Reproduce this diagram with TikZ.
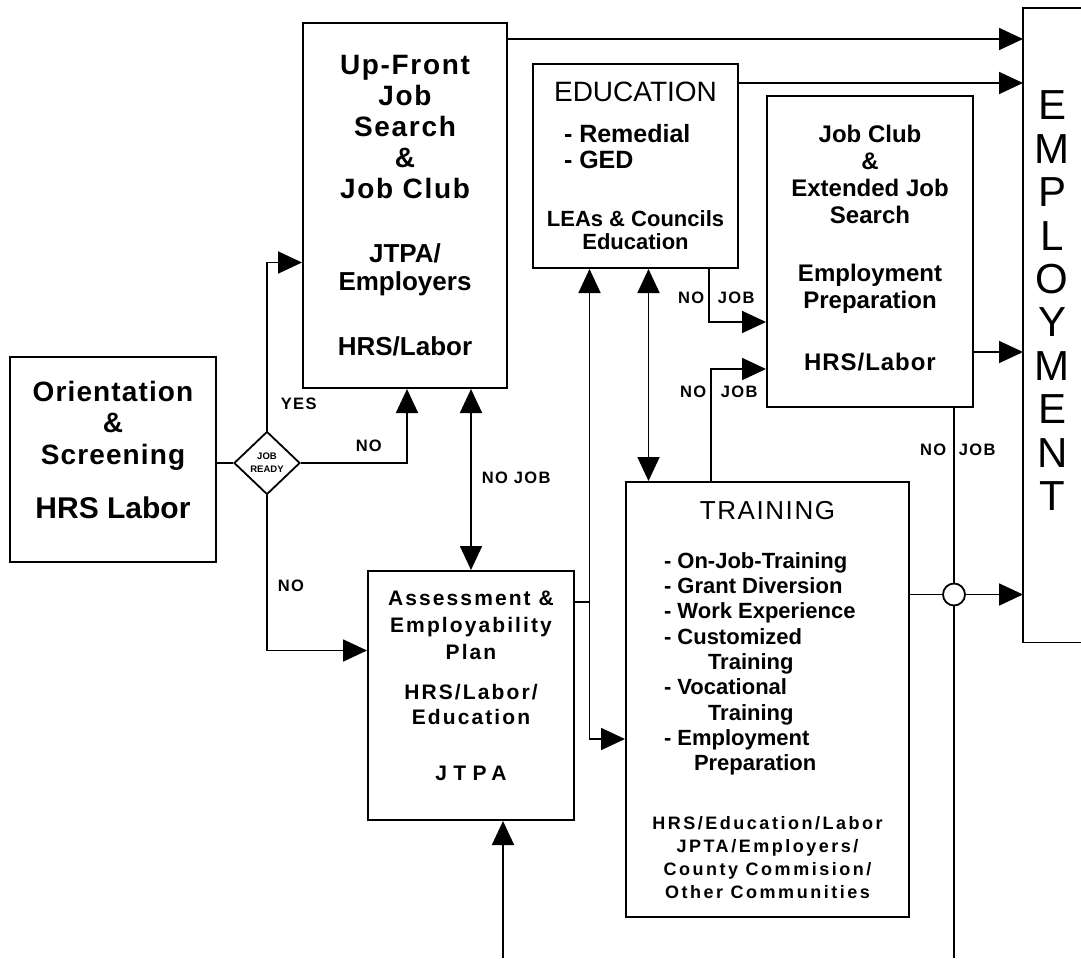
\documentclass[tikz,border=0pt]{standalone}
\usepackage{fontspec}
\setmainfont{Liberation Sans}
\usetikzlibrary{arrows.meta,shapes.geometric}

\newcommand{\fsz}[2]{\fontsize{#1}{#2}\selectfont}
\newcommand{\tracked}[1]{\addfontfeature{LetterSpace=#1}}
\newcommand{\eduitem}[1]{\makebox[143pt][l]{#1}}
\newcommand{\tritem}[1]{\makebox[207pt][l]{#1}}
\newcommand{\lowerby}[1]{\rule[-#1]{0pt}{#1}}

\begin{document}
\begin{tikzpicture}[x=1pt, y=-1pt,
  box/.style={draw, line width=2pt, anchor=north west, inner sep=0pt, align=center},
  plain/.style={line width=1.8pt},
  arr/.style={line width=1.8pt, -{Triangle[length=24pt,width=22pt]}},
  dblarr/.style={line width=1.8pt, {Triangle[length=24pt,width=22pt]}-{Triangle[length=24pt,width=22pt]}},
  lbl/.style={font=\bfseries\tracked{8}\fsz{16.5}{18}, inner sep=2pt}]
  \useasboundingbox (0,0) rectangle (1081,958);

  \node (orient) [box, minimum width=206pt, minimum height=205pt, font=\bfseries\tracked{4}\fsz{28}{31.5}] at (9,356)
        {Orientation\\\&\\Screening\\[23pt]{\normalfont\bfseries\fsz{30}{31.5}HRS Labor}\lowerby{19pt}};
  \node (upfront) [box, minimum width=204pt, minimum height=365pt, font=\bfseries\tracked{6}\fsz{28}{31}] at (302,22)
        {Up-Front\\Job\\Search\\\&\\Job Club\\[33pt]
         {\normalfont\bfseries\fsz{26}{31}JTPA/}\\[-3pt]
         {\normalfont\bfseries\fsz{26}{31}Employers}\\[34pt]
         {\normalfont\bfseries\fsz{26}{31}HRS/Labor}};
  \node (edu) [box, minimum width=205pt, minimum height=204pt, font=\bfseries\fsz{25}{26}] at (532,63)
        {{\mdseries\fsz{28}{26}EDUCATION}\\[15pt]
         \eduitem{- Remedial}\\
         \eduitem{- GED}\\[32pt]
         {\fsz{22}{26}LEAs \& Councils}\\[-3pt]
         {\fsz{22}{26}Education}};
  \node (jobclub) [box, minimum width=206pt, minimum height=311pt, font=\bfseries\fsz{24}{27}] at (766,95)
        {Job Club\\\&\\Extended Job\\Search\\[31pt]Employment\\Preparation\\[35pt]{\tracked{4}HRS/Labor}\lowerby{7pt}};
  \node (assess) [box, minimum width=206pt, minimum height=249pt, font=\bfseries\tracked{10}\fsz{21}{27}] at (367,570)
        {Assessment \&\\Employability\\Plan\\[13pt]HRS/Labor/\\[-2pt]Education\\[29pt]{\tracked{30}JTPA}\lowerby{20pt}};
  \node (train) [box, minimum width=283pt, minimum height=435pt, font=\bfseries\fsz{22}{25.3}] at (625,481)
        {{\mdseries\tracked{6}\fsz{26}{25.3}TRAINING}\\[24pt]
         \tritem{- On-Job-Training}\\
         \tritem{- Grant Diversion}\\
         \tritem{- Work Experience}\\
         \tritem{- Customized}\\
         \tritem{\hspace*{44pt}Training}\\
         \tritem{- Vocational}\\
         \tritem{\hspace*{44pt}Training}\\
         \tritem{- Employment}\\
         \tritem{\hspace*{30pt}Preparation}\\[33pt]
         {\tracked{14}\fsz{18}{25.3}HRS/Education/Labor}\\[-2.3pt]
         {\tracked{14}\fsz{18}{25.3}JPTA/Employers/}\\[-2.3pt]
         {\tracked{14}\fsz{18}{25.3}County Commision/}\\[-2.3pt]
         {\tracked{14}\fsz{18}{25.3}Other Communities}};
  \node (emp) [anchor=north west, inner sep=0pt, align=center, minimum width=58pt, minimum height=634pt, font=\fsz{42}{43.4}] at (1023,8)
        {E\\M\\P\\L\\O\\Y\\M\\E\\N\\T\lowerby{49pt}};
  \draw[plain] (emp.north east) -- (emp.north west) -- (emp.south west) -- (emp.south east);
  \node (ready) [diamond, draw, line width=1.8pt, fill=white, inner sep=0pt, minimum width=66pt, minimum height=63pt,
        align=center, font=\bfseries\fsz{9.5}{13}] at (267,463) {JOB\\READY};

  \coordinate (uf-out) at ([yshift=-17pt]upfront.north east);
  \coordinate (edu-out) at ([yshift=-20pt]edu.north east);
  \coordinate (jc-out) at ([yshift=56pt]jobclub.south east);
  \coordinate (jc-down) at ([xshift=-20pt]jobclub.south east);
  \coordinate (tr-out) at ([yshift=105pt]train.east);
  \coordinate (as-out) at ([yshift=-32pt]assess.north east);
  \coordinate (edu-in) at ([xshift=-46pt]edu.south);
  \coordinate (edu-tr) at ([xshift=13pt]edu.south);
  \coordinate (below-assess) at (503,958);

  \draw[plain] (orient.east |- ready.west) -- (ready.west);
  \draw[arr] (ready.north) |- ([yshift=-57pt]upfront.west) node[lbl, pos=0.08, right=11pt] {YES};
  \draw[arr] (ready.east) -| ([xshift=2pt]upfront.south) node[lbl, pos=0.32, above=8pt] {NO};
  \draw[arr] (ready.south) |- ([yshift=45pt]assess.west) node[lbl, pos=0.29, right=8pt] {NO};
  \draw[dblarr] (upfront.south -| assess.north) -- (assess.north) node[lbl, pos=0.49, right=8pt] {NO JOB};
  \draw[arr] (uf-out) -- (uf-out -| emp.west);
  \draw[arr] (edu-out) -- (edu-out -| emp.west);
  \draw[arr] (jc-out) -- (jc-out -| emp.west);
  \draw[arr] ([xshift=-30pt]edu.south east) |- ([yshift=-227pt]jobclub.north west)
        node[lbl, pos=0.27, left=2pt] {NO} node[lbl, pos=0.27, right=6pt] {JOB};
  \draw[arr] ([xshift=86pt]train.north west) |- ([yshift=39pt]jobclub.south west)
        node[lbl, pos=0.4, left=2pt] {NO} node[lbl, pos=0.4, right=7pt] {JOB};
  \draw[dblarr] (edu-tr) -- (edu-tr |- train.north);
  \draw[plain] (as-out) -- (as-out -| edu-in);
  \draw[dblarr] (edu-in) |- ([yshift=-39.5pt]train.west);
  \draw[arr] (below-assess) -- (below-assess |- assess.south);
  \draw[plain] (jc-down) -- (jc-down |- below-assess)
        node[lbl, pos=0.076, left=5pt] {NO} node[lbl, pos=0.076, right=2pt] {JOB};
  \node (joint) [circle, draw, line width=1.8pt, fill=white, minimum size=22pt, inner sep=0pt] at (jc-down |- tr-out) {};
  \draw[plain] (tr-out) -- (joint);
  \draw[arr] (joint) -- (joint -| emp.west);
\end{tikzpicture}
\end{document}
